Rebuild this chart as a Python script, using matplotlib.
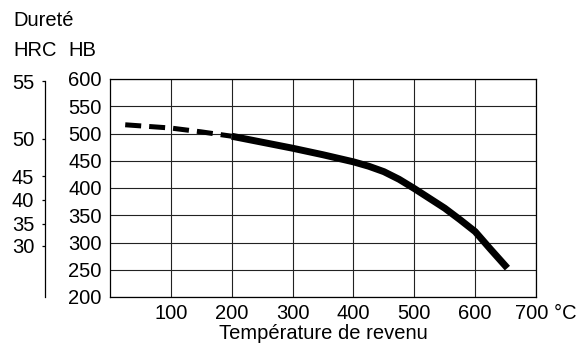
import matplotlib
matplotlib.use("Agg")
import matplotlib.pyplot as plt

plt.rcParams['font.family'] = ['Liberation Sans', 'DejaVu Sans']

# Data (temperature °C, hardness HB)
temp_dashed = [25, 100, 150, 200]
hb_dashed = [516, 510, 503, 495]
temp_solid = [200, 250, 300, 350, 400, 425, 450, 475, 500, 525, 550, 575, 600, 625, 653]
hb_solid = [495, 484, 473, 461, 448, 440, 430, 416, 399, 381, 363, 342, 320, 288, 253]

x_ticks = [100, 200, 300, 400, 500, 600]
hb_ticks = [200, 250, 300, 350, 400, 450, 500, 550, 600]
hrc_labels = ['55', '50', '45', '40', '35', '30']
hrc_hb_pos = [596, 490, 422, 378, 334, 294]

FS = 14.5

fig = plt.figure(figsize=(5.85, 3.47), dpi=100)
pos = [110/585, 1-297/347, (536-110)/585, (297-79)/347]
ax = fig.add_axes(pos)
ax.set_xlim(0, 700)
ax.set_ylim(200, 600)
ax.set_xticks(x_ticks + [700])
ax.set_xticklabels([str(t) for t in x_ticks] + [''])
ax.set_yticks(hb_ticks)
ax.set_yticklabels([str(t) for t in hb_ticks])
ax.tick_params(axis='both', length=0, labelsize=FS, colors='black')
ax.tick_params(axis='y', pad=6)
ax.tick_params(axis='x', pad=5)
ax.grid(True, color='#222222', linewidth=0.8)
ax.set_axisbelow(True)
for s in ax.spines.values():
    s.set_linewidth(0.9)
    s.set_color('black')

ax.plot(temp_dashed, hb_dashed, color='black', linewidth=3.6,
        linestyle=(0, (3.2, 1.6)), solid_capstyle='butt', dash_capstyle='butt')
ax.plot(temp_solid, hb_solid, color='black', linewidth=5.0,
        solid_capstyle='butt', solid_joinstyle='round')

ax.annotate('700 °C', xy=(700, 0), xycoords=ax.get_xaxis_transform(),
            xytext=(-21*0.72, -5), textcoords='offset points',
            ha='left', va='top', fontsize=FS)
ax.set_xlabel('Température de revenu', fontsize=FS, labelpad=1)

# HRC axis
ax2 = fig.add_axes(pos, frameon=True)
ax2.patch.set_visible(False)
ax2.set_ylim(200, 600)
ax2.set_xlim(0, 1)
ax2.set_xticks([])
for k in ['top', 'right', 'bottom']:
    ax2.spines[k].set_visible(False)
ax2.spines['left'].set_position(('outward', 65*0.72))
ax2.spines['left'].set_bounds(200, 596)
ax2.spines['left'].set_linewidth(0.9)
ax2.set_yticks(hrc_hb_pos)
ax2.set_yticklabels(hrc_labels)
ax2.tick_params(axis='y', direction='out', length=2.2, width=0.9, pad=5.5, labelsize=FS)

fig.text(13/585, 1-20/347, 'Dureté', fontsize=FS, ha='left', va='center')
fig.text(13/585, 1-50/347, 'HRC', fontsize=FS, ha='left', va='center')
fig.text(68/585, 1-50/347, 'HB', fontsize=FS, ha='left', va='center')

fig.savefig('out.png', dpi=100)
